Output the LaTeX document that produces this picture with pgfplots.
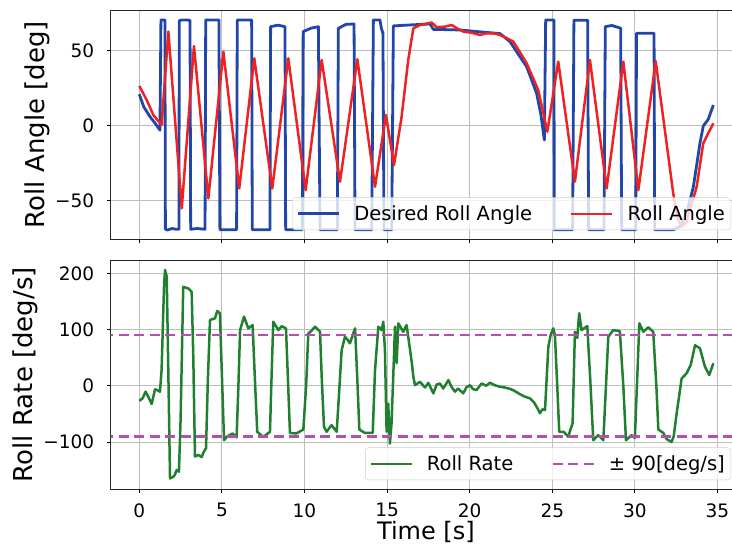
\documentclass[border=0pt]{standalone}
\usepackage{fontspec}
\setmainfont{DejaVu Sans}
\usepackage{pgfplots}
\pgfplotsset{compat=1.18}

\definecolor{cblue}{RGB}{33,70,168}
\definecolor{cred}{RGB}{238,34,34}
\definecolor{cgreen}{RGB}{32,128,48}
\definecolor{cpurple}{RGB}{180,80,170}

\pgfplotsset{
  panel/.style={
    scale only axis, width=630.4pt, height=229.3pt,
    anchor=north west,
    xmin=-1.731, xmax=36.43,
    xtick={0,5,...,35},
    grid=major,
    major grid style={line width=0.8pt, black!26},
    tick align=outside, tick pos=left,
    major tick length=4pt,
    tick style={black, line width=0.8pt},
    axis line style={black!85, line width=0.8pt},
    tick label style={font=\fontsize{18.5}{22}\selectfont, inner sep=0pt},
    xticklabel style={anchor=north, yshift=-9.8pt},
    yticklabel style={anchor=east, xshift=-12.4pt},
    label style={font=\fontsize{26}{30}\selectfont, inner sep=0pt},
    xlabel style={at={(axis description cs:0.5,-0.2202)}, anchor=base,
      font=\fontsize{24}{28}\selectfont},
    legend columns=2,
    legend image code/.code={\draw[##1] (0pt,0pt) -- (41pt,0pt);},
    legend style={
      at={(0.984,0.04)}, anchor=south east,
      font=\fontsize{19.5}{23}\selectfont,
      draw=black!20, rounded corners=3pt,
      fill=white, fill opacity=0.8, text opacity=1, draw opacity=1,
      inner xsep=4pt, inner ysep=6pt,
      nodes={inner sep=2pt},
      /tikz/every odd column/.append style={column sep=12pt},
      /tikz/every even column/.append style={column sep=36pt},
    },
  },
}

\begin{document}
\begin{tikzpicture}
\useasboundingbox (0,0) rectangle (732pt,-546pt);

% top: roll angle
\begin{axis}[panel,
  at={(110.7pt,-10pt)},
  ymin=-75.7, ymax=77.1,
  ytick={-50,0,50}, yticklabels={−50,0,50},
  xticklabels={},
  ylabel={Roll Angle [deg]},
  ylabel style={at={(axis description cs:-0.0963,0.5)}, anchor=south},
]
\addplot[cblue, line width=2.8pt, line join=round] coordinates {
(0,21) (0.27,12.6) (0.65,6) (1.0,1) (1.25,-3) (1.31,70.5) (1.55,70.5)
(1.58,-69) (1.7,-69.5) (2.0,-68.5) (2.2,-69) (2.4,-69)
(2.42,70) (2.6,70.5) (3.07,70.3) (3.11,-69) (3.5,-68.5) (3.98,-69)
(4.02,70.5) (4.82,70.5) (4.88,-69.3) (5.89,-69.3)
(5.93,70.5) (6.8,70.5) (6.84,-69.3) (7.91,-69.3)
(7.95,66) (8.4,67) (8.82,66) (8.86,-69.3) (9.87,-69.3)
(9.92,62.7) (10.4,65) (10.84,66) (10.94,-69.3) (11.99,-69.3)
(12.05,64.9) (12.5,67.5) (13.0,67.8) (13.06,-69.3) (14.07,-69.3)
(14.17,70.5) (14.57,70.5) (14.65,65) (14.75,61.6) (14.81,-69.3) (15.28,-69.3)
(15.38,66.5) (16.5,67.2) (17.6,67.8) (17.8,64.2) (19.41,63.8) (20.47,62.7)
(21.83,61.4) (22.44,56) (22.64,52.7) (23.04,46) (23.45,39.3) (24.05,21.6)
(24.3,8) (24.52,-9.5) (24.6,70.5) (25.1,70.5) (25.12,-69.3) (26.23,-69.3)
(26.31,70.3) (27.14,70.3) (27.2,-69.3) (28.13,-69.3)
(28.21,66) (28.6,66.8) (29.14,65) (29.2,-69.3) (30.05,-69.3)
(30.1,61.6) (31.16,61.6) (31.2,-69.3) (32.32,-69.3) (32.72,-67.3)
(33.13,-58.4) (33.54,-40.7) (33.94,-11.7) (34.14,-0.2) (34.44,4.2) (34.75,13.8)
};
\addlegendentry{Desired Roll Angle}
\addplot[cred, line width=2.5pt, line join=round] coordinates {
(0,26.5) (0.45,17.1) (0.85,7.1) (1.35,0.5) (1.76,62.7) (2.57,-55.1)
(3.31,53.1) (4.18,-48.4) (5.09,49.3) (6.05,-41.8) (6.96,44.9) (8.05,-41.8)
(9.02,44.9) (10.07,-43) (11.04,43.8) (12.15,-37.3) (13.2,44.3) (14.27,-40.7)
(14.93,7.1) (15.42,-26.2) (15.88,6) (16.28,43.8) (16.59,64.9) (16.99,67.1)
(17.7,68.7) (18.0,65.7) (18.5,66) (18.91,67.1) (19.3,64.5) (19.61,62.7)
(20.1,62) (20.62,60.5) (21.0,61.5) (21.43,61.6) (21.83,60.5) (22.24,58.4)
(22.64,56) (23.04,49) (23.45,41.6) (24.15,23.8) (24.7,-4) (25.36,42.7)
(26.37,-37.3) (27.28,43.8) (28.29,-41.8) (29.3,42.7) (30.21,-43) (31.26,43.1)
(32.32,-45) (32.6,-62) (32.83,-67.3) (33.13,-64) (33.74,-40.7) (34.14,-11.7)
(34.44,-5) (34.75,1.6)
};
\addlegendentry{Roll Angle}
\end{axis}

% bottom: roll rate
\begin{axis}[panel,
  at={(110.7pt,-260pt)},
  ymin=-184.3, ymax=223.7,
  ytick={-100,0,100,200}, yticklabels={−100,0,100,200},
  xticklabels={0,5,10,15,20,25,30,35},
  xlabel={Time [s]},
  ylabel={Roll Rate [deg/s]},
  ylabel style={at={(axis description cs:-0.1148,0.5)}, anchor=south},
]
\addplot[cgreen, line width=2.5pt, line join=round] coordinates {
(0,-27) (0.2,-22.5) (0.38,-10.6) (0.55,-20) (0.75,-32.6) (0.95,-6.5) (1.1,-8)
(1.25,-10.6) (1.35,28) (1.5,180) (1.56,206) (1.66,194) (1.76,20) (1.86,-165)
(2.06,-162) (2.16,-158) (2.26,-150) (2.4,-153) (2.5,-60) (2.66,176) (2.97,173)
(3.17,167) (3.27,50) (3.37,-126) (3.57,-123) (3.77,-127) (3.9,-118) (4.04,-111)
(4.15,10) (4.28,117) (4.58,120) (4.72,133) (4.88,129) (5.0,20) (5.13,-97)
(5.29,-91) (5.45,-88) (5.65,-85) (5.89,-92) (6.0,0) (6.1,99) (6.34,123)
(6.6,102) (6.86,108) (7.0,10) (7.14,-82) (7.3,-86) (7.51,-91) (7.91,-82)
(8.0,10) (8.11,114) (8.42,99) (8.62,106) (8.88,102) (9.0,10) (9.12,-84)
(9.5,-85) (9.93,-78) (10.1,0) (10.23,93) (10.4,97) (10.64,105) (10.94,96)
(11.05,10) (11.18,-73) (11.34,-82) (11.64,-70) (11.95,-82) (12.1,-10)
(12.25,63.5) (12.45,87.3) (12.6,82) (12.75,75.4) (13.06,102) (13.2,10)
(13.32,-78) (13.66,-84) (14.13,-84) (14.27,28) (14.47,105) (14.67,99)
(14.77,114) (14.87,63.5) (14.97,-82) (15.07,-32) (15.17,-103) (15.27,-67)
(15.48,105) (15.58,40) (15.68,111) (15.98,96) (16.18,108) (16.39,63.5)
(16.5,40) (16.59,16) (16.69,1) (16.99,7) (17.29,-3) (17.5,5) (17.8,-13.6)
(18.0,2) (18.2,4) (18.4,-5) (18.71,10) (18.9,-2) (19.11,-10.6) (19.3,-5)
(19.61,-13.6) (19.8,-3) (20.02,1) (20.2,-6) (20.42,-7.7) (20.72,4) (21.0,0)
(21.23,5.4) (21.5,1) (21.83,-1.8) (22.1,-3) (22.44,-5.5) (22.7,-9) (23.04,-15)
(23.3,-19) (23.65,-22.5) (23.9,-30) (24.1,-40) (24.25,-49) (24.4,-42)
(24.56,-43) (24.76,69) (24.9,90) (25.06,102) (25.16,90) (25.3,0) (25.42,-82)
(25.7,-82) (25.97,-91) (26.1,-78) (26.23,-67) (26.37,96) (26.51,85)
(26.63,129) (26.77,99) (27.12,106) (27.3,10) (27.48,-97) (27.78,-88)
(28.09,-97) (28.25,0) (28.39,87) (28.69,99) (29.09,97) (29.3,0) (29.46,-97)
(29.8,-88) (30.0,-93) (30.15,20) (30.27,111) (30.51,96) (30.81,104)
(31.11,96) (31.3,0) (31.42,-78) (31.72,-84) (31.92,-95) (32.22,-100)
(32.35,-90) (32.53,-49) (32.83,13) (33.13,22) (33.38,37) (33.64,72)
(33.94,66.5) (34.24,34) (34.5,19) (34.75,40)
};
\addlegendentry{Roll Rate}
\addplot[cpurple, line width=2.5pt, dash pattern=on 10pt off 5.5pt] coordinates {(-5,90) (40,90)};
\addlegendentry{± 90[deg/s]}
\addplot[cpurple, line width=2.5pt, dash pattern=on 10pt off 5.5pt, forget plot] coordinates {(-5,-90) (40,-90)};
\end{axis}
\end{tikzpicture}
\end{document}
